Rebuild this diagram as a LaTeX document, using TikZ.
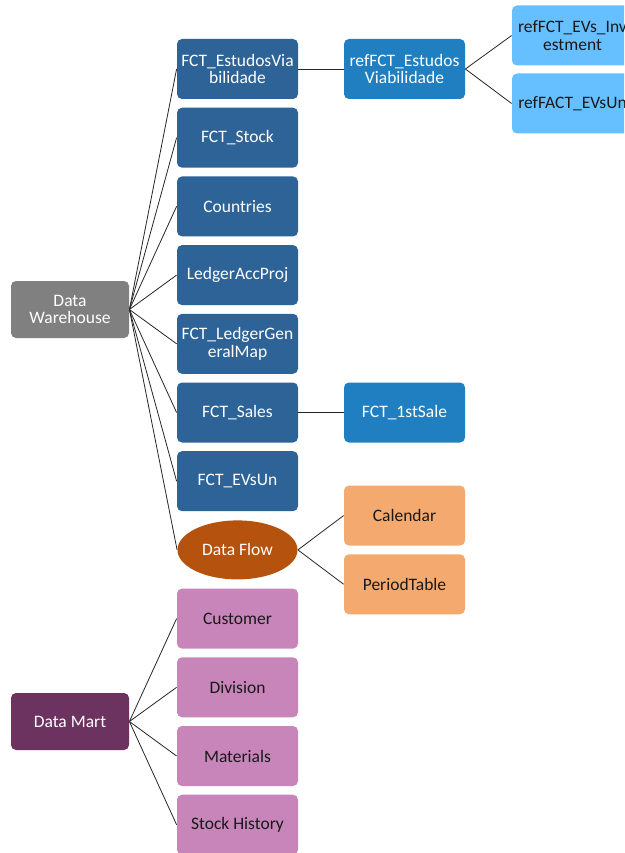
\documentclass[tikz,border=0pt]{standalone}
\usepackage{fontspec}
\setmainfont{Carlito}
\usetikzlibrary{positioning,shapes.geometric}

\definecolor{whgrey}{RGB}{128,128,128}
\definecolor{fctblue}{RGB}{46,99,151}
\definecolor{refblue}{RGB}{31,127,192}
\definecolor{skyblue}{RGB}{102,192,255}
\definecolor{flowbrown}{RGB}{181,82,14}
\definecolor{calorange}{RGB}{244,169,110}
\definecolor{martpurple}{RGB}{108,50,96}
\definecolor{martpink}{RGB}{199,133,186}

\begin{document}
\begin{tikzpicture}[x=1pt, y=-1pt, node distance={68.7pt}, line width=0.8pt,
  box/.style = {rectangle, rounded corners=5pt, minimum width=121pt, minimum height=60pt, inner sep=1pt, align=center, font=\fontsize{17.5}{17.5}\selectfont},
  root/.style = {box, minimum width=118pt, minimum height=57pt},
  fct/.style = {box, fill=fctblue, text=white},
  ref/.style = {box, fill=refblue, text=white},
  sub/.style = {box, fill=skyblue, text=black!90},
  cal/.style = {box, fill=calorange, text=black!90},
  mart/.style = {box, fill=martpink, text=black!90},
  flow/.style = {ellipse, fill=flowbrown, text=white, minimum width=120pt, minimum height=59pt, inner sep=0pt, font=\fontsize{17.5}{17.5}\selectfont},
  link/.style = {draw=black!85}]
\useasboundingbox (0,0) rectangle (624,853);
\clip (0,0) rectangle (624,853);

\node[root, fill=whgrey, text=white] (dw) at (70,309.5) {Data\\Warehouse};
\node[root, fill=martpurple, text=white] (dm) at (70,721.5) {Data Mart};

\node[fct] (fctev) at (237.5,69) {FCT\_EstudosVia\\bilidade};
\node[fct] (stock) [below of=fctev] {FCT\_Stock};
\node[fct] (countries) [below of=stock] {Countries};
\node[fct] (ledger) [below of=countries] {LedgerAccProj};
\node[fct] (genmap) [below of=ledger] {FCT\_LedgerGen\\eralMap};
\node[fct] (sales) [below of=genmap] {FCT\_Sales};
\node[fct] (evsun) [below of=sales] {FCT\_EVsUn};
\node[flow] (dflow) [below of=evsun] {Data Flow};
\node[mart] (customer) [below of=dflow] {Customer};
\node[mart] (division) [below of=customer] {Division};
\node[mart] (materials) [below of=division] {Materials};
\node[mart] (history) [below of=materials] {Stock History};

\node[ref] (refev) [right of=fctev, node distance=167pt] {refFCT\_Estudos\\Viabilidade};
\node[ref] (firstsale) [right of=sales, node distance=167pt] {FCT\_1stSale};
\node[cal] (calendar) [right of=dflow, node distance=167pt, yshift=34.35pt] {Calendar};
\node[cal] (period) [right of=dflow, node distance=167pt, yshift=-34.35pt] {PeriodTable};
\node[sub] (refinv) [right of=refev, node distance=168pt, yshift=33.5pt] {refFCT\_EVs\_Inv\\estment};
\node[sub] (refun) [right of=refev, node distance=168pt, yshift=-34.5pt] {refFACT\_EVsUn};

\draw[link] (dw.east) -- (fctev.west);
\draw[link] (dw.east) -- (stock.west);
\draw[link] (dw.east) -- (countries.west);
\draw[link] (dw.east) -- (ledger.west);
\draw[link] (dw.east) -- (genmap.west);
\draw[link] (dw.east) -- (sales.west);
\draw[link] (dw.east) -- (evsun.west);
\draw[link] (dw.east) -- (dflow.west);
\draw[link] (fctev.east) -- (refev.west);
\draw[link] (refev.east) -- (refinv.west);
\draw[link] (refev.east) -- (refun.west);
\draw[link] (sales.east) -- (firstsale.west);
\draw[link] (dflow.east) -- (calendar.west);
\draw[link] (dflow.east) -- (period.west);
\draw[link] (dm.east) -- (customer.west);
\draw[link] (dm.east) -- (division.west);
\draw[link] (dm.east) -- (materials.west);
\draw[link] (dm.east) -- (history.west);
\end{tikzpicture}
\end{document}
